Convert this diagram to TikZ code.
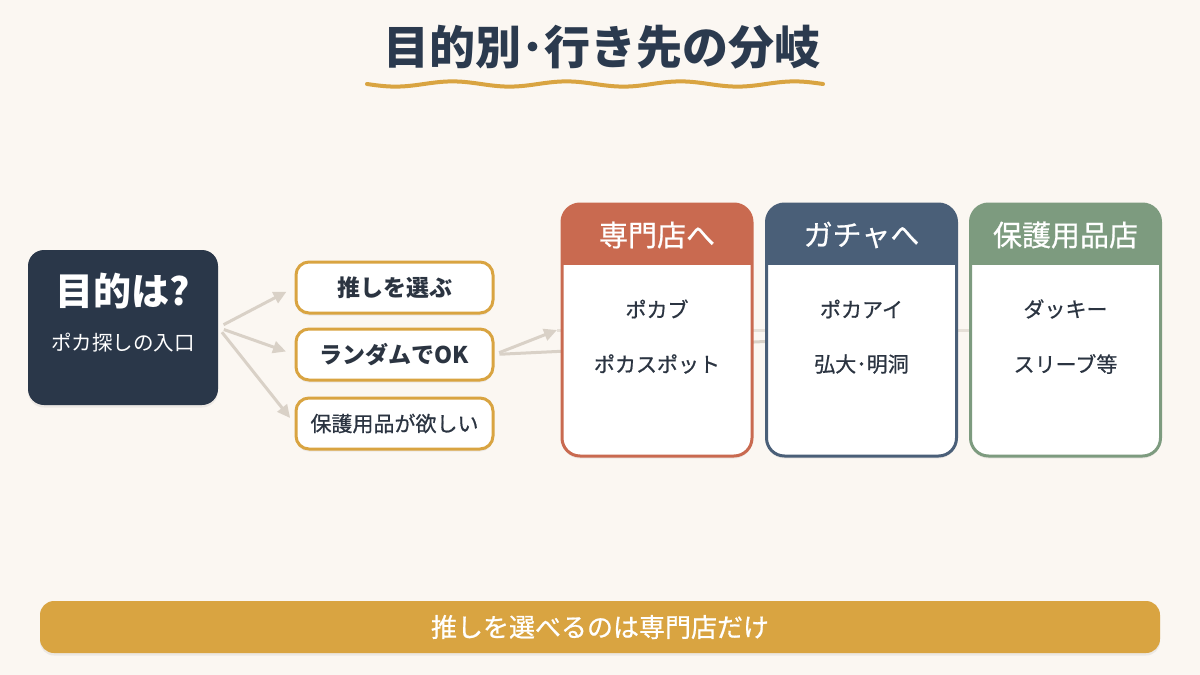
\documentclass[tikz,border=0pt]{standalone}
\usepackage{fontspec}
\setmainfont{Noto Sans CJK JP}
\newfontface\jpmed{Noto Sans CJK JP}[FakeBold=0.7]
\usetikzlibrary{arrows.meta,calc,shadows}
\definecolor{bg}{HTML}{FBF7F2}
\definecolor{navy}{HTML}{2B3A4E}
\definecolor{darkbox}{HTML}{2A3749}
\definecolor{gold}{HTML}{D9A441}
\definecolor{arrowc}{HTML}{D9D1C7}
\definecolor{redc}{HTML}{C96A50}
\definecolor{slatec}{HTML}{4A5F78}
\definecolor{sagec}{HTML}{7D9B7F}
\definecolor{txt}{HTML}{2B3441}
\begin{document}
\begin{tikzpicture}[x=1pt,y=-1pt,
  shade/.style={drop shadow={opacity=0.12,shadow xshift=0pt,shadow yshift=-2.5pt}},
  arr/.style={draw=arrowc,line width=3pt,-{Triangle[length=13pt,width=12pt]}},
  faint/.style={draw=arrowc,line width=3pt},
  optbox/.style={draw=gold,line width=3pt,fill=white,rounded corners=13pt,
    minimum width=197pt,minimum height=51pt,inner sep=0pt,shade,text=txt},
  card/.style={draw=#1,line width=3pt,fill=white,rounded corners=18pt,
    minimum width=190pt,minimum height=252pt,inner sep=0pt,shade,
    path picture={\fill[#1,sharp corners] (path picture bounding box.north west) rectangle ([yshift=-61pt]path picture bounding box.north east);}},
  head/.style={text=white,font=\jpmed\fontsize{29}{33}\selectfont},
  item/.style={text=txt,font=\jpmed\fontsize{21}{25}\selectfont}
]
\useasboundingbox[fill=bg] (0,0) rectangle (1200,675);

% title
\node[text=navy,font=\bfseries\fontsize{46}{50}\selectfont] (title) at (602,47) {目的別･行き先の分岐};
\draw[gold,line width=4pt,line cap=round] plot[domain=367:823,samples=160,smooth] (\x,{84+2.6*sin((\x-367)/114*360)});

% entry box
\node[fill=darkbox,rounded corners=16pt,minimum width=190pt,minimum height=155pt,inner sep=0pt,shade] (q) at (123,327.5) {};
\node[text=white,font=\bfseries\fontsize{38}{42}\selectfont] (qt) at (123,291) {目的は?};
\node[text=white,font=\fontsize{20.5}{24}\selectfont] (qs) at (123,343) {ポカ探しの入口};

% option boxes
\node[optbox,font=\bfseries\fontsize{23}{26}\selectfont] (o1) at (394.5,287.5) {推しを選ぶ};
\node[optbox,font=\bfseries\fontsize{23}{26}\selectfont] (o2) at (394.5,354.5) {ランダムでOK};
\node[optbox,font=\jpmed\fontsize{21}{25}\selectfont] (o3) at (394.5,423.5) {保護用品が欲しい};

% card positions (coordinates for connectors)
\coordinate (t1) at (557,330);
\coordinate (t2) at (775,341);
\coordinate (t3) at (980,330);

% connectors (drawn below cards)
\draw[arr,shorten <=6pt,shorten >=9pt] (q.east) -- (o1.west);
\draw[arr,shorten <=6pt,shorten >=9pt] (q.east) -- (o2.west);
\draw[arr,shorten <=6pt,shorten >=7pt] (q.east) -- (o3.west);
\draw[arr,shorten <=5pt] (o2.east) -- (t1);
\draw[faint,shorten <=5pt] (o2.east) -- (t2);
\draw[faint,opacity=0.6] (t1) -- (t3);

% cards
\node[card=redc] (s1) at (657,330) {};
\node[card=slatec] (s2) at (861.5,330) {};
\node[card=sagec] (s3) at (1065.5,330) {};

\node[head] (h1) at (657,235) {専門店へ};
\node[head] (h2) at (861.5,235) {ガチャへ};
\node[head] (h3) at (1065.5,235) {保護用品店};

\node[item] (a1) at (657,309) {ポカブ};
\node[item] (a2) at (657,364) {ポカスポット};
\node[item] (b1) at (861.5,309) {ポカアイ};
\node[item] (b2) at (861.5,364) {弘大･明洞};
\node[item] (c1) at (1065.5,309) {ダッキー};
\node[item] (c2) at (1065.5,364) {スリーブ等};

% footer
\node[fill=gold,rounded corners=14pt,minimum width=1120pt,minimum height=52pt,inner sep=0pt,shade,
  text=white,font=\jpmed\fontsize{26}{30}\selectfont] (foot) at (600,627) {推しを選べるのは専門店だけ};
\end{tikzpicture}
\end{document}
